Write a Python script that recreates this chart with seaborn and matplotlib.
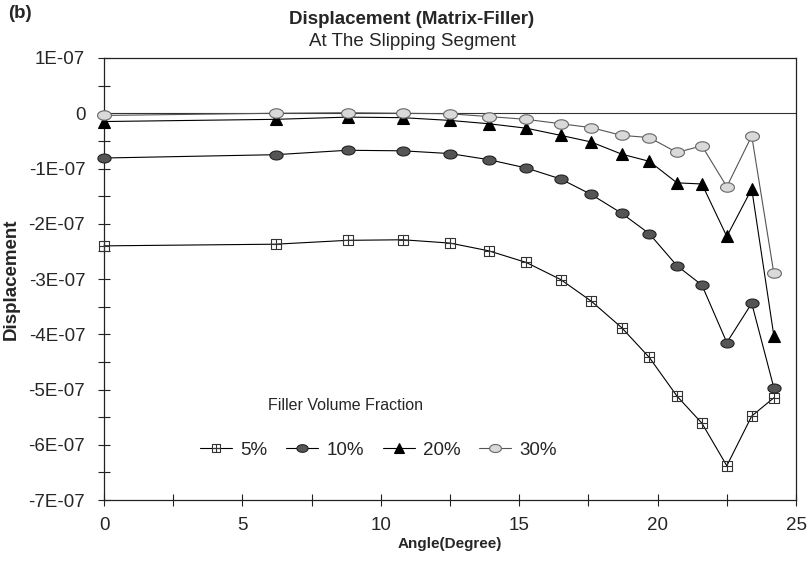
import numpy as np
import seaborn as sns
import matplotlib.pyplot as plt
from matplotlib.path import Path
from matplotlib.ticker import MultipleLocator, FixedLocator, FixedFormatter

# values, displacement in units of 1E-07
angle = [0, 6.2, 8.8, 10.8, 12.5, 13.9, 15.25, 16.5, 17.6, 18.7, 19.7, 20.7, 21.6, 22.5, 23.4, 24.2]
disp_5 = [-2.40, -2.37, -2.30, -2.29, -2.35, -2.49, -2.70, -3.01, -3.40, -3.88, -4.42, -5.12, -5.61, -6.38, -5.48, -5.15]
disp_10 = [-0.81, -0.75, -0.67, -0.68, -0.73, -0.84, -0.99, -1.19, -1.47, -1.81, -2.18, -2.76, -3.11, -4.15, -3.44, -4.97]
disp_20 = [-0.15, -0.11, -0.07, -0.08, -0.13, -0.19, -0.27, -0.40, -0.52, -0.74, -0.87, -1.26, -1.28, -2.23, -1.37, -4.03]
disp_30 = [-0.04, 0.00, 0.01, 0.00, -0.01, -0.06, -0.11, -0.19, -0.26, -0.40, -0.44, -0.71, -0.59, -1.33, -0.41, -2.90]
labels = ["5%", "10%", "20%", "30%"]
scale = 1e-7

y_ticks = [1, 0, -1, -2, -3, -4, -5, -6, -7]
y_ticklabels = ["1E-07", "0", "-1E-07", "-2E-07", "-3E-07", "-4E-07", "-5E-07", "-6E-07", "-7E-07"]

sns.set_theme(style="ticks")
plt.rcParams["font.family"] = ["Liberation Sans", "DejaVu Sans"]

# square with a cross inside
sq_cross = Path(
    [(-1, -1), (1, -1), (1, 1), (-1, 1), (-1, -1), (0, -1), (0, 1), (-1, 0), (1, 0)],
    [Path.MOVETO, Path.LINETO, Path.LINETO, Path.LINETO, Path.CLOSEPOLY,
     Path.MOVETO, Path.LINETO, Path.MOVETO, Path.LINETO],
)
t = np.linspace(0, 2 * np.pi, 40)
ellipse = Path(np.column_stack([np.cos(t), 0.68 * np.sin(t)]), closed=True)

styles = [
    dict(marker=sq_cross, markersize=7.5, markerfacecolor="none", markeredgecolor="#333333",
         markeredgewidth=0.8, color="black"),
    dict(marker=ellipse, markersize=9.5, markerfacecolor="#555555", markeredgecolor="#222222",
         markeredgewidth=0.8, color="black"),
    dict(marker="^", markersize=8.5, markerfacecolor="black", markeredgecolor="black",
         markeredgewidth=0.8, color="black"),
    dict(marker=ellipse, markersize=10, markerfacecolor="#d9d9d9", markeredgecolor="#666666",
         markeredgewidth=0.8, color="#555555"),
]

fig = plt.figure(figsize=(8.07, 5.62), dpi=100)
ax = fig.add_axes([0.1289, 0.1103, 0.8575, 0.7865])

for vals, lab, st in zip([disp_5, disp_10, disp_20, disp_30], labels, styles):
    sns.lineplot(x=angle, y=np.array(vals) * scale, ax=ax, label=lab, linewidth=0.8,
                 clip_on=False, zorder=3, **st)

ax.axhline(0, color="#333333", linewidth=0.8, zorder=0)

ax.set_xlim(0, 25)
ax.set_ylim(-7e-7, 1e-7)
ax.xaxis.set_major_locator(MultipleLocator(5))
ax.xaxis.set_minor_locator(MultipleLocator(2.5))
ax.yaxis.set_major_locator(FixedLocator([v * scale for v in y_ticks]))
ax.yaxis.set_major_formatter(FixedFormatter(y_ticklabels))
ax.yaxis.set_minor_locator(MultipleLocator(0.5e-7))
ax.yaxis.get_offset_text().set_visible(False)

for s in ax.spines.values():
    s.set_color("#222222")
    s.set_linewidth(0.9)

ax.tick_params(axis="both", which="both", direction="inout", color="#222222", width=0.8)
ax.tick_params(axis="both", which="major", length=9, labelsize=13.5)
ax.tick_params(axis="both", which="minor", length=9)
ax.tick_params(axis="x", which="major", pad=8)
ax.tick_params(axis="y", which="major", pad=9)

ax.set_xlabel("Angle(Degree)", fontsize=11, fontweight="bold", labelpad=2)
ax.set_ylabel("Displacement", fontsize=13.5, fontweight="bold", labelpad=6)

fig.text(412 / 807, 1 - 20 / 562, "Displacement (Matrix-Filler)", ha="center", va="center",
         fontsize=13.5, fontweight="bold")
fig.text(412 / 807, 1 - 41 / 562, "At The Slipping Segment", ha="center", va="center",
         fontsize=13.5)
fig.text(8 / 807, 1 - 14 / 562, "(b)", ha="left", va="center", fontsize=13.5, fontweight="bold")

ax.text(345 / 807, 1 - 405 / 562, "Filler Volume Fraction", transform=fig.transFigure,
        ha="center", va="center", fontsize=11.5)
ax.legend(loc="center left", bbox_to_anchor=(200 / 807, 1 - 450 / 562),
          bbox_transform=fig.transFigure, ncol=4, frameon=False, fontsize=13.5,
          handlelength=1.7, handletextpad=0.45, columnspacing=1.0, borderpad=0, borderaxespad=0,
          markerscale=0.85)

fig.savefig("out.png", dpi=100)
